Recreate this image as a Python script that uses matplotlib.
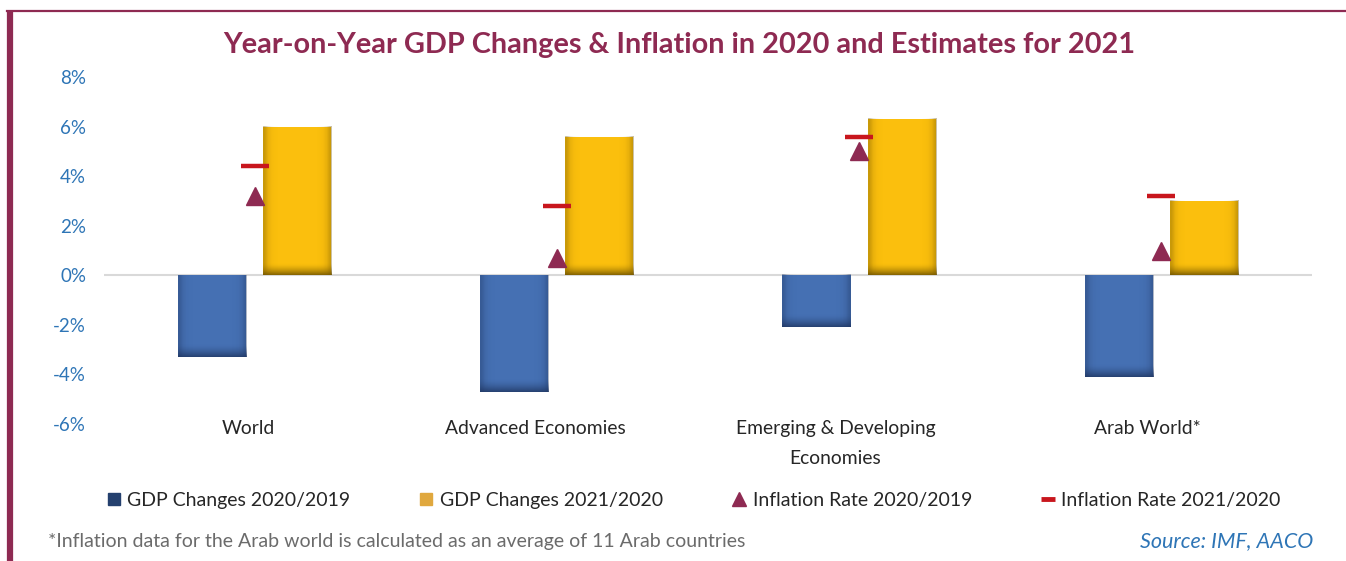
import numpy as np
import matplotlib
matplotlib.use("Agg")
import matplotlib.pyplot as plt
from matplotlib.colors import to_rgb
from matplotlib.lines import Line2D

plt.rcParams["font.family"] = ["Lato", "DejaVu Sans"]

# IMF figures, % year-on-year
regions = ["World", "Advanced Economies", "Emerging & Developing\nEconomies", "Arab World*"]
gdp_2020 = [-3.3, -4.7, -2.1, -4.1]
gdp_2021 = [6.0, 5.6, 6.3, 3.0]
infl_2020 = [3.2, 0.7, 5.0, 1.0]
infl_2021 = [4.4, 2.8, 5.6, 3.2]
yticks = [-6, -4, -2, 0, 2, 4, 6, 8]

BLUE = "#4570B3"
BLUE_DARK = "#1F3560"
GOLD = "#FBBF0D"
GOLD_DARK = "#6E5200"
MAROON = "#8E2A52"
RED = "#C8161D"
TICK_BLUE = "#2E75B6"
TEXT = "#262626"


def shade_bar(ax, patch, dark, depth=0.55, alpha=0.85):
    # darken the lower end of a bar with a soft vertical ramp
    x0, w = patch.get_x(), patch.get_width()
    y0, h = patch.get_y(), patch.get_height()
    lo = min(y0, y0 + h)
    n = 40
    rgba = np.zeros((n, 1, 4))
    rgba[..., :3] = to_rgb(dark)
    rgba[..., 3] = (np.linspace(1, 0, n) ** 1.6 * alpha).reshape(-1, 1)
    ax.imshow(rgba, extent=(x0, x0 + w, lo, lo + depth), origin="lower",
              aspect="auto", interpolation="bilinear", zorder=patch.get_zorder() + 0.1)
    # faint darker sides
    m = 20
    side = np.zeros((1, m, 4))
    side[..., :3] = to_rgb(dark)
    prof = np.concatenate([np.linspace(1, 0, m // 2), np.linspace(0, 1, m // 2)]) ** 8
    side[..., 3] = prof * 0.35
    ax.imshow(side, extent=(x0, x0 + w, lo, lo + abs(h)), origin="lower",
              aspect="auto", interpolation="bilinear", zorder=patch.get_zorder() + 0.05)


fig = plt.figure(figsize=(13.46, 5.61), dpi=100)
ax = fig.add_axes([0.0769, 0.2442, 0.8982, 0.6185])

x = np.arange(len(regions))
bw = 0.225
off = 0.141
b1 = ax.bar(x - off, gdp_2020, bw, color=BLUE, zorder=2)
b2 = ax.bar(x + off, gdp_2021, bw, color=GOLD, zorder=2)
for p in b1:
    shade_bar(ax, p, BLUE_DARK, depth=0.5, alpha=0.8)
for p in b2:
    shade_bar(ax, p, GOLD_DARK, depth=0.45, alpha=0.85)

ax.plot(x, infl_2020, ls="none", marker="^", ms=13, color=MAROON, mec=MAROON, zorder=4)
ax.plot(x, infl_2021, ls="none", marker="_", ms=19.5, mew=3.2, color=RED, zorder=4)

ax.axhline(0, color="#D9D9D9", lw=1.5, zorder=1)
ax.set_xlim(-0.5, len(regions) - 0.5)
ax.set_ylim(-6, 8)
ax.set_yticks(yticks)
ax.set_yticklabels([f"{v}%" for v in yticks], color=TICK_BLUE, fontsize=13.5)
ax.tick_params(axis="y", length=0, pad=12.5)
ax.set_xticks([])
for s in ax.spines.values():
    s.set_visible(False)

# category names sit a little left of their group centres
label_nudge = [-0.022, -0.07, -0.078, -0.045]
for xi, name, dx in zip(x, regions, label_nudge):
    ax.text(xi + dx, -5.85, name, ha="center", va="top", fontsize=13.9,
            color=TEXT, linespacing=1.9)

handles = [
    Line2D([], [], ls="none", marker="s", ms=9, color="#24406E"),
    Line2D([], [], ls="none", marker="s", ms=9, color="#E0A83E"),
    Line2D([], [], ls="none", marker="^", ms=10, color=MAROON),
    Line2D([], [], ls="none", marker="_", ms=9.5, mew=3.5, color=RED),
]
labels = ["GDP Changes 2020/2019", "GDP Changes 2021/2020",
          "Inflation Rate 2020/2019", "Inflation Rate 2021/2020"]
fig.legend(handles, labels, loc="center", bbox_to_anchor=(0.5152, 0.108), ncol=4,
           frameon=False, fontsize=14, handlelength=0.8, handletextpad=0.3,
           columnspacing=3.5, labelcolor=TEXT)

fig.text(0.505, 0.92, "Year-on-Year GDP Changes & Inflation in 2020 and Estimates for 2021",
         ha="center", va="center", fontsize=20.8, fontweight="bold", color=MAROON)
fig.text(0.0357, 0.035, "*Inflation data for the Arab world is calculated as an average of 11 Arab countries",
         ha="left", va="center", fontsize=14, color="#6B6B6B")
fig.text(0.976, 0.035, "Source: IMF, AACO", ha="right", va="center", fontsize=15.5,
         style="italic", color=TICK_BLUE)

# frame accents: thick left rule, thin top rule
fig.add_artist(Line2D([0.0074, 0.0074], [0, 0.982], transform=fig.transFigure,
                      color=MAROON, lw=4.5, solid_capstyle="butt"))
fig.add_artist(Line2D([0.005, 1.0], [0.981, 0.981], transform=fig.transFigure,
                      color=MAROON, lw=1.6))

fig.savefig("out.png", dpi=100)
